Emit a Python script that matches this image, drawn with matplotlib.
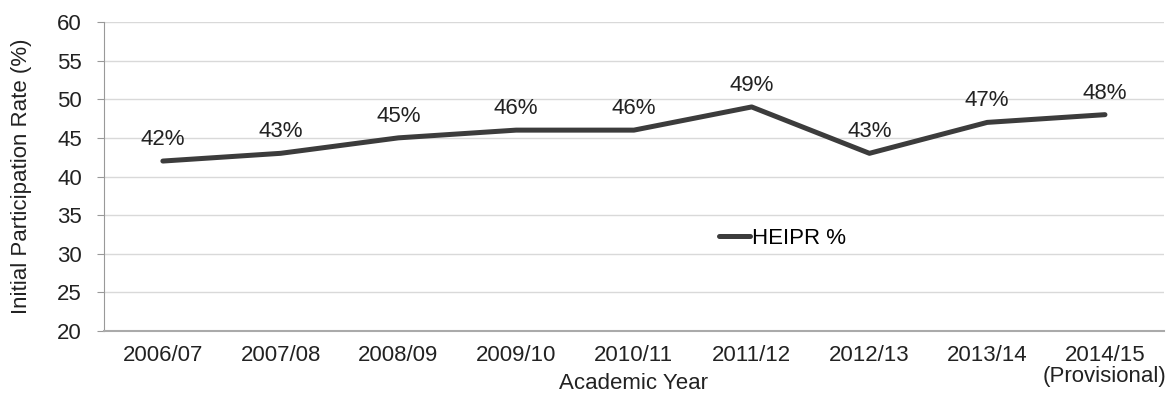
import matplotlib
matplotlib.use("Agg")
import matplotlib.pyplot as plt

years = ["2006/07", "2007/08", "2008/09", "2009/10", "2010/11", "2011/12", "2012/13", "2013/14", "2014/15\n(Provisional)"]
heipr = [42, 43, 45, 46, 46, 49, 43, 47, 48]
labels = ["42%", "43%", "45%", "46%", "46%", "49%", "43%", "47%", "48%"]

plt.rcParams['font.family'] = ['Liberation Sans', 'DejaVu Sans']
fig = plt.figure(figsize=(11.75, 3.98), dpi=100)
ax = fig.add_axes([0.0885, 0.168, 0.902, 0.777])

x = list(range(len(years)))
line_color = '#3c3c3c'
ax.plot(x, heipr, color=line_color, lw=3.6, solid_capstyle='round', label='HEIPR %')
for xi, yi, lab in zip(x, heipr, labels):
    ax.annotate(lab, (xi, yi), xytext=(0, 8), textcoords='offset points',
                ha='center', va='bottom', fontsize=16, color='#222222')

ax.set_xlim(-0.5, len(years) - 0.5)
ax.set_ylim(20, 60)
ax.set_yticks(range(20, 61, 5))
ax.set_xticks(x)
ax.set_xticklabels(years, fontsize=16, color='#222222', linespacing=1.0)
ax.tick_params(axis='y', labelsize=16, colors='#222222', length=5, color='#999999', pad=11)
ax.tick_params(axis='x', length=0, pad=10)
ax.yaxis.grid(True, color='#d9d9d9', lw=1.0)
ax.set_axisbelow(True)
for s in ['top', 'right']:
    ax.spines[s].set_visible(False)
ax.spines['left'].set_color('#999999')
ax.spines['bottom'].set_color('#aaaaaa')
ax.spines['bottom'].set_linewidth(1.5)
ax.set_ylabel('Initial Participation Rate (%)', fontsize=16, color='#222222')
ax.yaxis.set_label_coords(-0.068, 0.5)
ax.set_xlabel('Academic Year', fontsize=16, color='#222222')
ax.xaxis.set_label_coords(0.5, -0.135)

leg = ax.legend(loc='center left', bbox_to_anchor=(0.58, 0.30), frameon=False,
                fontsize=16, handlelength=1.4, handletextpad=0.1, borderaxespad=0, borderpad=0)

fig.savefig('out.png', dpi=100)
